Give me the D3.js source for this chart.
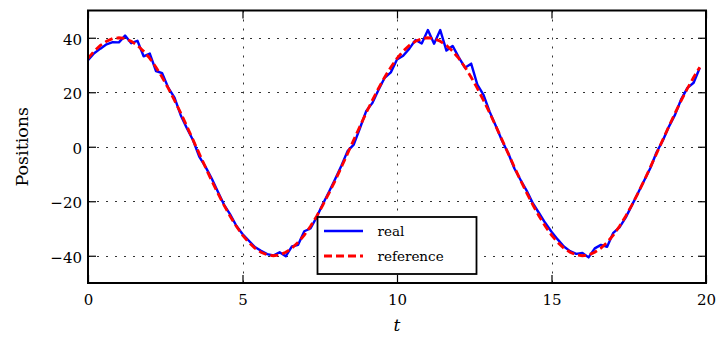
<!DOCTYPE html>
<html><head><meta charset="utf-8">
<script src="https://cdn.jsdelivr.net/npm/d3@7"></script>
<style>body{margin:0;background:#fff}svg{display:block}</style>
</head><body><svg id="c" width="717" height="342"></svg>
<script>
// ---- data ----
const timeValues = [0,0.2,0.4,0.6,0.8,1,1.2,1.4,1.6,1.8,2,2.2,2.4,2.6,2.8,3,3.2,3.4,3.6,3.8,
  4,4.2,4.4,4.6,4.8,5,5.2,5.4,5.6,5.8,6,6.2,6.4,6.6,6.8,7,7.2,7.4,7.6,7.8,
  8,8.2,8.4,8.6,8.8,9,9.2,9.4,9.6,9.8,10,10.2,10.4,10.6,10.8,11,11.2,11.4,11.6,11.8,
  12,12.2,12.4,12.6,12.8,13,13.2,13.4,13.6,13.8,14,14.2,14.4,14.6,14.8,15,15.2,15.4,15.6,15.8,
  16,16.2,16.4,16.6,16.8,17,17.2,17.4,17.6,17.8,18,18.2,18.4,18.6,18.8,19,19.2,19.4,19.6,19.8];
const realValues = [31.8,34.3,36.0,37.6,38.4,38.3,40.8,38.0,38.9,33.2,
  34.2,27.8,27.0,21.6,18.0,11.6,6.8,2.4,-3.6,-7.3,
  -11.6,-16.4,-21.2,-24.8,-29.0,-32.0,-34.4,-36.8,-38.2,-39.4,
  -39.9,-38.7,-40.2,-36.6,-36.0,-31.0,-30.0,-25.8,-21.0,-16.5,
  -11.8,-7.0,-1.6,0.8,6.8,13.0,16.0,20.8,25.3,27.3,
  32.0,33.4,36.0,39.2,37.9,42.8,37.8,42.8,35.3,37.0,
  32.8,29.0,30.5,22.8,19.0,12.8,7.6,2.2,-2.4,-8.0,
  -12.2,-16.2,-20.8,-24.4,-28.0,-31.2,-34.0,-36.6,-38.3,-39.3,
  -39.0,-40.6,-37.3,-36.0,-36.7,-31.6,-29.6,-26.0,-21.5,-17.0,
  -12.4,-7.8,-2.0,2.2,7.4,11.8,17.5,21.6,23.5,29.0];
const referenceValues = [32.4,35.1,37.2,38.7,39.7,40,39.7,38.7,37.2,35.1,
  32.4,29.2,25.5,21.4,17.0,12.4,7.5,2.5,-2.5,-7.5,
  -12.4,-17.0,-21.4,-25.5,-29.2,-32.4,-35.1,-37.2,-38.7,-39.7,
  -40,-39.7,-38.7,-37.2,-35.1,-32.4,-29.2,-25.5,-21.4,-17.0,
  -12.4,-7.5,-2.5,2.5,7.5,12.4,17.0,21.4,25.5,29.2,
  32.4,35.1,37.2,38.7,39.7,40,39.7,38.7,37.2,35.1,
  32.4,29.2,25.5,21.4,17.0,12.4,7.5,2.5,-2.5,-7.5,
  -12.4,-17.0,-21.4,-25.5,-29.2,-32.4,-35.1,-37.2,-38.7,-39.7,
  -40,-39.7,-38.7,-37.2,-35.1,-32.4,-29.2,-25.5,-21.4,-17.0,
  -12.4,-7.5,-2.5,2.5,7.5,12.4,17.0,21.4,25.5,29.2];
const seriesNames = ["real", "reference"];
const xTickValues = [0, 5, 10, 15, 20];
const yTickValues = [-40, -20, 0, 20, 40];
const xDomain = [0, 20];
const yDomain = [-50, 50];
const xLabel = "t";
const yLabel = "Positions";

// ---- layout ----
const plotL = 88, plotR = 706, plotT = 10.5, plotB = 283;
const svg = d3.select("#c");
const x = d3.scaleLinear().domain(xDomain).range([plotL, plotR]);
const y = d3.scaleLinear().domain(yDomain).range([plotB, plotT]);
const font = "'DejaVu Serif', serif";

// grid
const grid = svg.append("g").attr("stroke", "#333").attr("stroke-width", 1)
  .attr("stroke-dasharray", "2,7").attr("fill", "none");
grid.selectAll("line.h").data(yTickValues).join("line").attr("class", "h")
  .attr("x1", plotL).attr("x2", plotR)
  .attr("y1", d => Math.round(y(d)) + 0.5).attr("y2", d => Math.round(y(d)) + 0.5);
grid.selectAll("line.v").data(xTickValues.filter(d => d > xDomain[0] && d < xDomain[1])).join("line").attr("class", "v")
  .attr("y1", plotT).attr("y2", plotB)
  .attr("x1", d => Math.round(x(d)) + 0.5).attr("x2", d => Math.round(x(d)) + 0.5);

// axes
function styleAxis(g, labels) {
  g.select(".domain").remove();
  g.selectAll(".tick line").attr("stroke", "#000").attr("stroke-width", 1.2);
  if (!labels) g.selectAll(".tick text").remove();
  else g.selectAll(".tick text").attr("font-family", font).attr("font-size", 15).attr("fill", "#000");
}
svg.append("g").attr("transform", `translate(0,${plotB})`)
  .call(d3.axisBottom(x).tickValues(xTickValues).tickSize(-8).tickPadding(11.5).tickFormat(d3.format("d")))
  .call(g => styleAxis(g, true));
svg.append("g").attr("transform", `translate(0,${plotT})`)
  .call(d3.axisTop(x).tickValues(xTickValues).tickSize(-8))
  .call(g => styleAxis(g, false));
svg.append("g").attr("transform", `translate(${plotL},0)`)
  .call(d3.axisLeft(y).tickValues(yTickValues).tickSize(-8).tickPadding(6).tickFormat(d3.format("d")))
  .call(g => styleAxis(g, true))
  .call(g => g.selectAll(".tick text").attr("dy", "0.42em"));
svg.append("g").attr("transform", `translate(${plotR},0)`)
  .call(d3.axisRight(y).tickValues(yTickValues).tickSize(-8))
  .call(g => styleAxis(g, false));

// series
const realData = timeValues.map((t, i) => [t, realValues[i]]);
const refData = timeValues.map((t, i) => [t, referenceValues[i]]);
const line = d3.line().x(d => x(d[0])).y(d => y(d[1]));
svg.append("path").datum(realData).attr("d", line)
  .attr("fill", "none").attr("stroke", "#0000ff").attr("stroke-width", 2.4).attr("stroke-linejoin", "round");
svg.append("path").datum(refData).attr("d", line)
  .attr("fill", "none").attr("stroke", "#ff0000").attr("stroke-width", 2.8).attr("stroke-dasharray", "8,4");

// frame
svg.append("rect").attr("x", plotL).attr("y", plotT).attr("width", plotR - plotL).attr("height", plotB - plotT)
  .attr("fill", "none").attr("stroke", "#000").attr("stroke-width", 2);

// axis labels
svg.append("text").attr("x", (plotL + plotR) / 2).attr("y", 331).attr("text-anchor", "middle")
  .attr("font-family", font).attr("font-style", "italic").attr("font-size", 17).text(xLabel);
svg.append("text").attr("transform", `translate(28,${(plotT + plotB) / 2}) rotate(-90)`).attr("text-anchor", "middle")
  .attr("font-family", font).attr("font-size", 17.5).text(yLabel);

// legend
const lg = svg.append("g");
lg.append("rect").attr("x", 317.5).attr("y", 217).attr("width", 159).attr("height", 57)
  .attr("fill", "#fff").attr("stroke", "#000").attr("stroke-width", 1.8);
const legendStyles = [
  {color: "#0000ff", width: 2.4, dash: null, y: 231},
  {color: "#ff0000", width: 2.8, dash: "8,4", y: 256}
];
seriesNames.forEach((name, i) => {
  const s = legendStyles[i];
  lg.append("line").attr("x1", 324).attr("x2", 363).attr("y1", s.y).attr("y2", s.y)
    .attr("stroke", s.color).attr("stroke-width", s.width).attr("stroke-dasharray", s.dash);
  lg.append("text").attr("x", 377.5).attr("y", s.y + 5).attr("font-family", font).attr("font-size", 13.5)
    .text(name);
});
</script>
</body></html>
